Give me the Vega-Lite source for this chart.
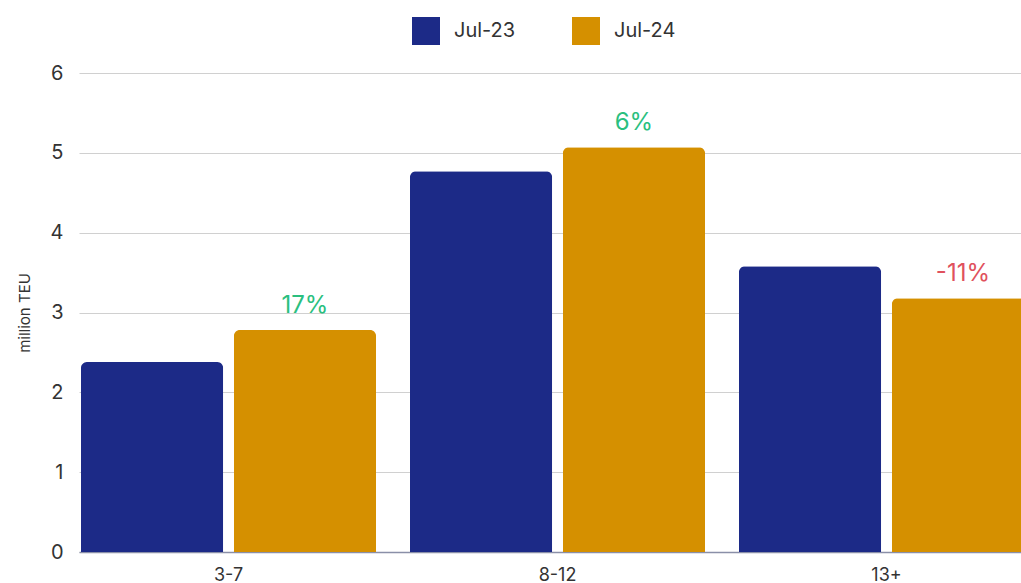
{
  "$schema": "https://vega.github.io/schema/vega-lite/v6.json",
  "autosize": "none",
  "width": 942,
  "height": 479,
  "padding": {"left": 79, "top": 73, "right": 0, "bottom": 31},
  "background": "white",
  "config": {
    "view": {"stroke": null},
    "font": "Inter",
    "axis": {"labelFont": "Inter", "titleFont": "Inter", "labelColor": "#333333", "titleColor": "#333333"},
    "legend": {"labelFont": "Inter"}
  },
  "data": {
    "values": [
      {"group": "3-7", "period": "Jul-23", "value": 2.38, "label": ""},
      {"group": "3-7", "period": "Jul-24", "value": 2.78, "label": "17%"},
      {"group": "8-12", "period": "Jul-23", "value": 4.77, "label": ""},
      {"group": "8-12", "period": "Jul-24", "value": 5.07, "label": "6%"},
      {"group": "13+", "period": "Jul-23", "value": 3.58, "label": ""},
      {"group": "13+", "period": "Jul-24", "value": 3.18, "label": "-11%"}
    ]
  },
  "encoding": {
    "x": {
      "field": "group", "type": "nominal", "sort": ["3-7", "8-12", "13+"],
      "scale": {"range": [0, 957], "paddingInner": 0.103, "paddingOuter": 0.006},
      "axis": {"title": null, "labelAngle": 0, "labelFontSize": 18, "domain": true, "domainColor": "#8a8fa8", "domainWidth": 1.5, "ticks": false, "labelPadding": 14}
    },
    "xOffset": {"field": "period", "type": "nominal", "scale": {"paddingInner": 0.07}},
    "y": {
      "field": "value", "type": "quantitative",
      "scale": {"domain": [0, 6]},
      "axis": {"title": "million TEU", "titleFontSize": 15, "titleFontWeight": "normal", "titlePadding": 18, "labelFontSize": 20, "values": [0, 1, 2, 3, 4, 5, 6], "labelOverlap": false, "domain": false, "ticks": false, "labelPadding": 16, "gridColor": "#d0d0d0", "gridWidth": 1.2}
    }
  },
  "layer": [
    {
      "mark": {"type": "bar", "cornerRadiusTopLeft": 6, "cornerRadiusTopRight": 6},
      "encoding": {
        "color": {
          "field": "period", "type": "nominal",
          "scale": {"domain": ["Jul-23", "Jul-24"], "range": ["#1c2a87", "#d59000"]},
          "legend": {"title": null, "orient": "none", "direction": "horizontal", "legendX": 333, "legendY": -56, "symbolType": "square", "symbolSize": 784, "symbolStrokeWidth": 0, "symbolOpacity": 1, "labelFontSize": 20, "labelColor": "#333333", "labelOffset": 14, "columnPadding": 56}
        }
      }
    },
    {
      "mark": {"type": "text", "fontSize": 24, "baseline": "alphabetic", "dy": -17},
      "encoding": {
        "text": {"field": "label"},
        "color": {"condition": {"test": "indexof(datum.label, '-') >= 0", "value": "#e0515d"}, "value": "#2bbf7f"}
      }
    }
  ]
}
